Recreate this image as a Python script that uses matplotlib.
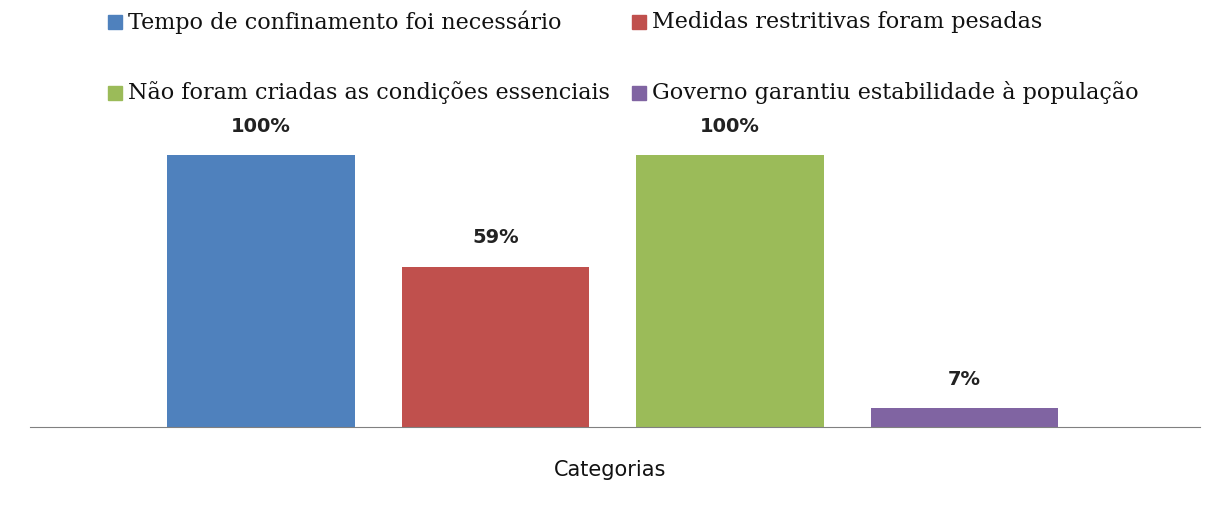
import matplotlib.pyplot as plt
from matplotlib.patches import Rectangle

series = ['Tempo de confinamento foi necessário',
          'Medidas restritivas foram pesadas',
          'Não foram criadas as condições essenciais',
          'Governo garantiu estabilidade à população']
values = [100, 59, 100, 7]
labels = ['100%', '59%', '100%', '7%']
colors = ['#4F81BD', '#C0504D', '#9BBB59', '#8064A2']

W, H = 1226, 519
fig = plt.figure(figsize=(W / 100, H / 100), dpi=100)

# área do gráfico (em pixels da referência)
base_y = 427
top_y = 120
ax = fig.add_axes([30 / W, 1 - base_y / H, 1170 / W, (base_y - top_y) / H])

x = range(len(values))
ax.bar(x, values, width=0.8, color=colors)
ax.set_xlim(-0.985, 4.004)
ax.set_ylim(0, 100 * (base_y - top_y) / 272)

for xi, v, lab in zip(x, values, labels):
    ax.annotate(lab, (xi, v), xytext=(0, 14), textcoords='offset points',
                ha='center', va='bottom', fontsize=14, fontweight='bold',
                color='#222222')

for s in ['top', 'right', 'left']:
    ax.spines[s].set_visible(False)
ax.spines['bottom'].set_color('#808080')
ax.set_xticks([])
ax.set_yticks([])

fig.text(610 / W, 1 - 470 / H, 'Categorias', ha='center', va='center',
         fontsize=15, color='#111111')

# legenda manual em duas linhas
leg_pos = [(108, 22), (632, 22), (108, 93), (632, 93)]
for (px, py), name, c in zip(leg_pos, series, colors):
    fig.patches.append(Rectangle((px / W, 1 - (py + 7) / H), 14 / W, 14 / H,
                                 transform=fig.transFigure, color=c))
    fig.text((px + 20) / W, 1 - py / H, name, ha='left', va='center',
             fontsize=16, family='DejaVu Serif', color='#111111')

fig.savefig('out.png', dpi=100)
